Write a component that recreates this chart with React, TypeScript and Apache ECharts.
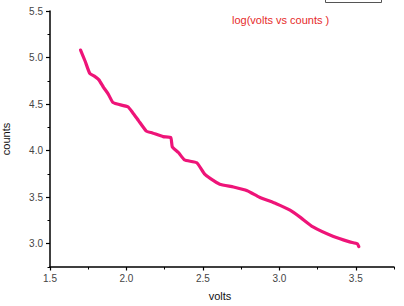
import React, { useEffect, useRef } from "react";
import * as echarts from "echarts";

// volts (x) and log counts (y) along the measured curve
const volts = [1.70, 1.73, 1.76, 1.79, 1.82, 1.85, 1.88, 1.91, 1.94, 2.01, 2.04, 2.08, 2.13, 2.17, 2.24, 2.29, 2.30, 2.34, 2.38, 2.46, 2.51, 2.55, 2.61, 2.70, 2.79, 2.87, 2.98, 3.07, 3.14, 3.22, 3.35, 3.46, 3.51, 3.52];
const counts = [5.08, 4.96, 4.83, 4.80, 4.76, 4.68, 4.61, 4.52, 4.50, 4.47, 4.41, 4.32, 4.21, 4.19, 4.15, 4.14, 4.04, 3.98, 3.90, 3.87, 3.75, 3.70, 3.64, 3.61, 3.57, 3.50, 3.43, 3.36, 3.28, 3.18, 3.08, 3.02, 3.00, 2.97];

const xTicks = [1.5, 2.0, 2.5, 3.0, 3.5];
const xMinorTicks = [1.75, 2.25, 2.75, 3.25, 3.75];
const yTicks = [3.0, 3.5, 4.0, 4.5, 5.0, 5.5];
const yMinorTicks = [2.75, 3.25, 3.75, 4.25, 4.75, 5.25];

const titleText = "log(volts vs counts )";
const xName = "volts";
const yName = "counts";

export default function App() {
  const ref = useRef<HTMLDivElement>(null);

  useEffect(() => {
    if (!ref.current) return;
    const chart = echarts.init(ref.current, null, { renderer: "svg" });
    const font = "Arial, 'Liberation Sans', sans-serif";
    const lineCol = "#000";
    const xBase = { type: "value", min: 1.5, max: 3.75, splitLine: { show: false } };
    const yBase = { type: "value", min: 2.75, max: 5.5, splitLine: { show: false } };
    chart.setOption({
      animation: false,
      backgroundColor: "#fff",
      grid: { left: 50, top: 11, right: 10, bottom: 39, containLabel: false },
      xAxis: [
        {
          ...xBase,
          axisLine: { show: true, lineStyle: { color: lineCol, width: 1.5 } },
          axisTick: { show: true, length: 3.5, customValues: xTicks, lineStyle: { color: lineCol, width: 1.2 } },
          axisLabel: {
            margin: 6,
            color: "#444",
            fontSize: 10,
            fontFamily: font,
            customValues: xTicks,
            formatter: (v: number) => v.toFixed(1),
          },
        },
        {
          ...xBase,
          position: "bottom",
          axisLine: { show: false },
          axisTick: { show: true, length: 2.5, customValues: xMinorTicks, lineStyle: { color: lineCol, width: 1 } },
          axisLabel: { show: false },
        },
      ],
      yAxis: [
        {
          ...yBase,
          axisLine: { show: true, lineStyle: { color: lineCol, width: 1.5 } },
          axisTick: { show: true, length: 4, customValues: yTicks, lineStyle: { color: lineCol, width: 1.2 } },
          axisLabel: {
            margin: 7,
            color: "#444",
            fontSize: 10,
            fontFamily: font,
            customValues: yTicks,
            formatter: (v: number) => v.toFixed(1),
          },
        },
        {
          ...yBase,
          position: "left",
          axisLine: { show: false },
          axisTick: { show: true, length: 2.5, customValues: yMinorTicks, lineStyle: { color: lineCol, width: 1 } },
          axisLabel: { show: false },
        },
      ],
      series: [
        {
          type: "line",
          data: volts.map((v, i) => [v, counts[i]]),
          showSymbol: false,
          symbol: "none",
          smooth: 0.15,
          lineStyle: { color: "#ee1478", width: 3.2, cap: "round", join: "round" },
        },
      ],
      graphic: [
        {
          type: "rect",
          shape: { x: 325.5, y: -10, width: 56, height: 12.5 },
          style: { fill: "#fff", stroke: "#555", lineWidth: 1 },
        },
        {
          type: "text",
          x: 232,
          y: 20,
          style: {
            text: titleText,
            fill: "#e62a2a",
            font: `11px ${font}`,
            textVerticalAlign: "middle",
          },
        },
        {
          type: "text",
          x: 220,
          y: 296,
          style: {
            text: xName,
            fill: "#111",
            font: `11px ${font}`,
            textAlign: "center",
            textVerticalAlign: "middle",
          },
        },
        {
          type: "text",
          x: 6,
          y: 139,
          rotation: Math.PI / 2,
          style: {
            text: yName,
            fill: "#111",
            font: `11px ${font}`,
            textAlign: "center",
            textVerticalAlign: "middle",
          },
        },
      ],
    });
    return () => chart.dispose();
  }, []);

  return (
    <div
      ref={ref}
      style={{ width: 404, height: 306, position: "fixed", left: 0, top: 0, background: "#fff" }}
    />
  );
}
